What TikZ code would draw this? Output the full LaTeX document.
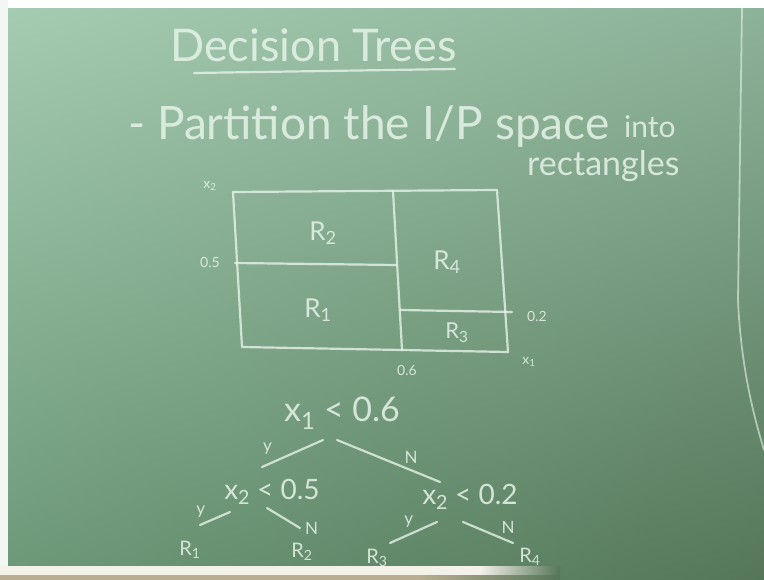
\documentclass[tikz,border=0pt]{standalone}
\usepackage{fontspec}
\setmainfont{Lato}
\usepackage{xcolor}
\definecolor{boardtl}{HTML}{A6CCB2}
\definecolor{boardtr}{HTML}{8DB39A}
\definecolor{boardbl}{HTML}{6C9878}
\definecolor{boardbr}{HTML}{557659}
\definecolor{chalk}{HTML}{E6F4E8}
\definecolor{paper}{HTML}{F3F1E8}
\definecolor{ledge}{HTML}{B9AE92}
\usepackage{tikz}
\usetikzlibrary{calc, positioning, shadings}

\tikzset{
  chalkline/.style={draw=chalk, line width=2.2pt, line cap=round, line join=round, opacity=0.8},
  chalktext/.style={text=chalk, text opacity=0.85, inner sep=0pt},
  treenode/.style={chalktext, font=\fontsize{28}{30}\selectfont},
  leafnode/.style={chalktext, font=\fontsize{20}{22}\selectfont},
  branchlbl/.style={chalktext, font=\fontsize{17}{19}\selectfont},
  regionlbl/.style={chalktext, font=\fontsize{26}{28}\selectfont},
  axislbl/.style={chalktext, font=\fontsize{14}{16}\selectfont}
}

\begin{document}
\begin{tikzpicture}[x=1pt, y=-1pt]
\useasboundingbox (0,0) rectangle (764,580);

% Board
\shade[upper left=boardtl, upper right=boardtr, lower left=boardbl, lower right=boardbr]
  (0,0) rectangle (764,580);

% Photo edges
\fill[white] (0,0) rectangle (764,8);
\fill[white!85!boardtl] (0,0) rectangle (8,566);
\fill[paper] (0,566) rectangle (480,575);
\shade[left color=paper, right color=boardbr] (480,566) rectangle (560,575);
\fill[ledge] (0,575) rectangle (420,580);
\shade[left color=ledge, right color=boardbr] (420,575) rectangle (560,580);

% Edge of the board
\draw[chalkline, line width=1.8pt, opacity=0.6] (742,8) -- (738,300)
  .. controls (741,370) and (755,420) .. (764,450);

% Heading
\node[chalktext, anchor=base west, font=\fontsize{45}{48}\selectfont] (title) at (170,62) {Decision Trees};
\draw[chalkline] (194,73) -- (455,69);

\node[chalktext, anchor=base west, font=\fontsize{46}{50}\selectfont] (partition) at (128,140) {- Partition the I/P space};
\node[chalktext, anchor=base west, font=\fontsize{30}{32}\selectfont] (into) at (624,138) {into};
\node[chalktext, anchor=base west, font=\fontsize{34}{36}\selectfont] (rects) at (527,176) {rectangles};

% Input space
\draw[chalkline] (233,192) -- (497,190) -- (508,352) -- (242,347) -- cycle;
\draw[chalkline] (393,191) -- (402,350);
\draw[chalkline] (235,263) -- (396,265);
\draw[chalkline] (400,310) -- (512,312);

\node[regionlbl] (rtwo) at (323,233) {R\textsubscript{2}};
\node[regionlbl] (rone) at (318,310) {R\textsubscript{1}};
\node[regionlbl] (rfour) at (447,262) {R\textsubscript{4}};
\node[regionlbl, font=\fontsize{22}{24}\selectfont] (rthree) at (457,333) {R\textsubscript{3}};

\node[axislbl] (xtwo) at (210,186) {x\textsubscript{2}};
\node[axislbl] (cuta) at (210,262) {0.5};
\node[axislbl] (cutc) at (537,316) {0.2};
\node[axislbl] (cutb) at (407,370) {0.6};
\node[axislbl] (xone) at (529,362) {x\textsubscript{1}};

% Tree
\node[treenode, font=\fontsize{34}{36}\selectfont] (root) at (342,413) {x\textsubscript{1} < 0.6};
\node[treenode] (left) at (272,492) {x\textsubscript{2} < 0.5};
\node[treenode] (right) at (470,497) {x\textsubscript{2} < 0.2};
\node[leafnode] (leafa) at (190,550) {R\textsubscript{1}};
\node[leafnode] (leafb) at (302,552) {R\textsubscript{2}};
\node[leafnode] (leafc) at (377,558) {R\textsubscript{3}};
\node[leafnode] (leafd) at (530,557) {R\textsubscript{4}};

\draw[chalkline] ($(root)+(-19,27)$) -- node[branchlbl, pos=0.75, above left=6pt] {y} ($(left)+(-10,-25)$);
\draw[chalkline] ($(root)+(-5,27)$) -- node[branchlbl, pos=0.72, above=6pt] {N} ($(right)+(-30,-15)$);
\draw[chalkline] ($(left)+(-42,20)$) -- node[branchlbl, pos=0.7, above left=4pt] {y} ($(leafa)+(10,-25)$);
\draw[chalkline] ($(left)+(-5,16)$) -- node[branchlbl, pos=1, right=4pt] {N} ($(leafb)+(-2,-24)$);
\draw[chalkline] ($(right)+(-33,25)$) -- node[branchlbl, pos=0.6, above=6pt] {y} ($(leafc)+(13,-15)$);
\draw[chalkline] ($(right)+(-7,25)$) -- node[branchlbl, pos=0.9, above=6pt] {N} ($(leafd)+(-17,-14)$);

\end{tikzpicture}
\end{document}
